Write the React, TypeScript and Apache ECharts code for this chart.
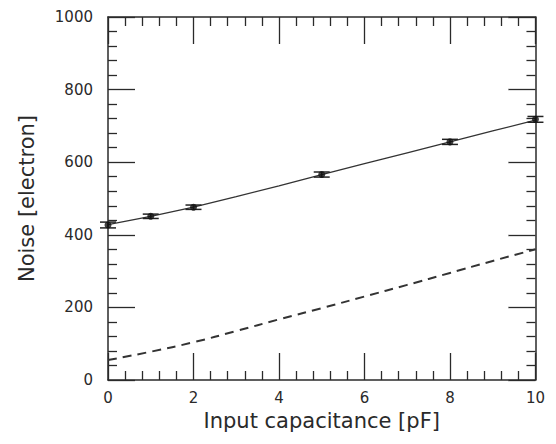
import React, { useEffect, useRef } from "react";
import * as echarts from "echarts";

const measX = [0, 1, 2, 5, 8, 10];
const measY = [427, 451, 476, 566, 656, 718];
const measErr = [8, 6, 6, 7, 7, 8];
const fitX = [0, 1, 2, 3, 4, 5, 6, 7, 8, 9, 10];
const fitY = [428, 451, 476, 505, 535, 566, 596, 626, 656, 686, 716];
const dashX = [0, 1, 2, 3, 4, 5, 6, 7, 8, 9, 10];
const dashY = [55, 78, 104, 135, 167, 198, 230, 262, 295, 328, 360];

const FONT = "DejaVu Sans";
const INK = "#2a2a2a";

export default function App() {
  const ref = useRef<HTMLDivElement>(null);
  useEffect(() => {
    const chart = echarts.init(ref.current!, null, { renderer: "svg" });
    const axisCommon = {
      type: "value" as const,
      axisLine: { show: true, onZero: false, lineStyle: { color: INK, width: 1.5 } },
      axisTick: { show: true, inside: true, length: 27, lineStyle: { color: INK, width: 1.3 } },
      minorTick: { show: true, splitNumber: 5, length: 9, lineStyle: { color: INK, width: 1.3 } },
      splitLine: { show: false },
      minorSplitLine: { show: false },
    };
    chart.setOption({
      animation: false,
      backgroundColor: "#fff",
      grid: { left: 92, right: 2, top: 9, bottom: 56 },
      xAxis: [
        {
          ...axisCommon,
          position: "bottom",
          min: 0,
          max: 10,
          interval: 2,
          name: "Input capacitance [pF]",
          nameLocation: "middle",
          nameGap: 30,
          nameTextStyle: { fontFamily: FONT, fontSize: 21, color: INK },
          axisLabel: { fontFamily: FONT, fontSize: 15, color: INK, margin: 10 },
        },
        {
          ...axisCommon,
          position: "top",
          min: 0,
          max: 10,
          interval: 2,
          axisLabel: { show: false },
        },
      ],
      yAxis: [
        {
          ...axisCommon,
          position: "left",
          min: 0,
          max: 1000,
          interval: 200,
          name: "Noise [electron]",
          nameLocation: "middle",
          nameGap: 71,
          nameTextStyle: { fontFamily: FONT, fontSize: 21, color: INK },
          axisLabel: {
            fontFamily: FONT,
            fontSize: 15,
            color: INK,
            margin: 15,
            formatter: (v: number) => String(v),
          },
        },
        {
          ...axisCommon,
          position: "right",
          min: 0,
          max: 1000,
          interval: 200,
          axisLabel: { show: false },
        },
      ],
      series: [
        {
          type: "line",
          data: fitX.map((x, i) => [x, fitY[i]]),
          showSymbol: false,
          symbol: "none",
          lineStyle: { color: "#333", width: 1.3 },
          z: 2,
        },
        {
          type: "line",
          data: dashX.map((x, i) => [x, dashY[i]]),
          showSymbol: false,
          symbol: "none",
          smooth: true,
          lineStyle: { color: "#333", width: 2, type: [9, 6] },
          z: 2,
        },
        {
          type: "custom",
          data: measX.map((x, i) => [x, measY[i], measErr[i]]),
          clip: false,
          renderItem: (params: any, api: any) => {
            const x = api.value(0);
            const y = api.value(1);
            const e = api.value(2);
            const hi = api.coord([x, y + e]);
            const lo = api.coord([x, y - e]);
            const w = 8;
            const st = { stroke: "#222", lineWidth: 1.5 };
            return {
              type: "group",
              children: [
                { type: "line", shape: { x1: hi[0], y1: hi[1], x2: lo[0], y2: lo[1] }, style: st },
                { type: "line", shape: { x1: hi[0] - w, y1: hi[1], x2: hi[0] + w, y2: hi[1] }, style: st },
                { type: "line", shape: { x1: lo[0] - w, y1: lo[1], x2: lo[0] + w, y2: lo[1] }, style: st },
              ],
            };
          },
          z: 3,
        },
        {
          type: "scatter",
          data: measX.map((x, i) => [x, measY[i]]),
          symbol: "circle",
          symbolSize: 7,
          itemStyle: { color: "#111" },
          z: 4,
        },
      ],
    });
    return () => chart.dispose();
  }, []);
  return <div ref={ref} style={{ width: 540, height: 428 }} />;
}
